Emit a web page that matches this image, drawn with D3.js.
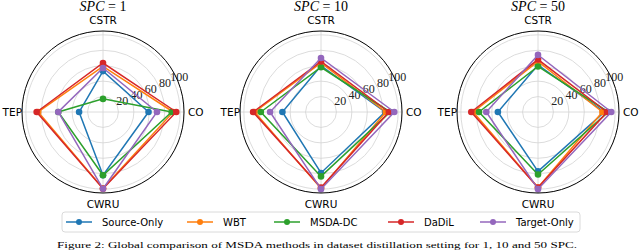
<!DOCTYPE html>
<html>
<head>
<meta charset="utf-8">
<script src="https://cdn.jsdelivr.net/npm/d3@7"></script>
<style>
  body { margin: 0; background: #fff; }
  svg { display: block; }
</style>
</head>
<body>
<svg width="640" height="251"></svg>
<script>
// axes, counter-clockwise from the right like matplotlib
var categories = ["CO", "CSTR", "TEP", "CWRU"];
var methods = ["Source-Only", "WBT", "MSDA-DC", "DaDiL", "Target-Only"];
var colors = ["#1f77b4", "#ff7f0e", "#2ca02c", "#d62728", "#9467bd"];
var rTicks = [20, 40, 60, 80, 100];
var panelTitles = ["1", "10", "50"];

// one row per method, values in categories order
var spc1 = [
  [59, 53, 31, 82],
  [91, 59, 84, 99],
  [89, 17, 58, 82],
  [95, 63.5, 86, 99.5],
  [70, 57, 58, 99.5]
];
var spc10 = [
  [83, 60, 50, 79],
  [84, 63.5, 86, 99],
  [89.5, 58, 78, 83.5],
  [88, 65.5, 88, 98],
  [95, 70, 66, 100]
];
var spc50 = [
  [86, 61, 52, 77],
  [83.5, 65.5, 84, 98],
  [91, 59, 76.5, 81],
  [89.5, 68, 86.5, 98],
  [95, 74, 67, 100]
];
var panels = [spc1, spc10, spc50];

var svg = d3.select("svg");
var R = 81, cy = 112;
var centers = [103, 321, 538];

var r = d3.scaleLinear().domain([0, 105]).range([0, R]);
// matplotlib angle (ccw from east) -> d3 radial angle (cw from north)
var theta = d3.scaleOrdinal().domain(categories).range([0, 90, 180, 270]);
function ang(c) { return (90 - theta(c)) * Math.PI / 180; }

var line = d3.lineRadial()
    .angle(function(d) { return ang(d.cat); })
    .radius(function(d) { return r(d.v); })
    .curve(d3.curveLinearClosed);

panels.forEach(function(data, pi) {
  var g = svg.append("g")
      .attr("transform", "translate(" + centers[pi] + "," + cy + ")");

  // grid circles
  g.selectAll(".grid").data(rTicks).enter().append("circle")
      .attr("r", function(d) { return r(d); })
      .attr("fill", "none")
      .attr("stroke", "#d3d3d3")
      .attr("stroke-width", 0.8);

  // spokes
  g.selectAll(".spoke").data(categories).enter().append("line")
      .attr("x1", 0).attr("y1", 0)
      .attr("x2", function(d) { return R * Math.sin(ang(d)); })
      .attr("y2", function(d) { return -R * Math.cos(ang(d)); })
      .attr("stroke", "#d3d3d3")
      .attr("stroke-width", 0.8);

  // radial tick labels at 22.5 deg
  var la = (90 - 22.5) * Math.PI / 180;
  g.selectAll(".rl").data(rTicks).enter().append("text")
      .attr("x", function(d) { return r(d) * Math.sin(la) + 5; })
      .attr("y", function(d) { return -r(d) * Math.cos(la) - 5; })
      .attr("text-anchor", "middle")
      .attr("dominant-baseline", "central")
      .attr("font-family", "Liberation Serif, serif")
      .attr("font-size", 12)
      .attr("fill", "#222")
      .text(function(d) { return d; });

  // series
  data.forEach(function(vals, mi) {
    var pts = categories.map(function(c, i) { return {cat: c, v: vals[i]}; });
    g.append("path")
        .attr("d", line(pts))
        .attr("fill", "none")
        .attr("stroke", colors[mi])
        .attr("stroke-width", 1.5);
    g.selectAll(".m" + mi).data(pts).enter().append("circle")
        .attr("cx", function(d) { return r(d.v) * Math.sin(ang(d.cat)); })
        .attr("cy", function(d) { return -r(d.v) * Math.cos(ang(d.cat)); })
        .attr("r", 3.3)
        .attr("fill", colors[mi]);
  });

  // outer frame
  g.append("circle")
      .attr("r", R)
      .attr("fill", "none")
      .attr("stroke", "#000")
      .attr("stroke-width", 1);

  // category labels
  var lab = g.append("g")
      .attr("font-family", "DejaVu Sans, sans-serif")
      .attr("font-size", 10.5)
      .attr("fill", "#000");
  lab.append("text").attr("x", R + 4).attr("y", 0).attr("dominant-baseline", "central").text(categories[0]);
  lab.append("text").attr("x", 0).attr("y", -R - 7).attr("text-anchor", "middle").text(categories[1]);
  lab.append("text").attr("x", -R).attr("y", 0).attr("text-anchor", "end").attr("dominant-baseline", "central").text(categories[2]);
  lab.append("text").attr("x", 0).attr("y", R + 15).attr("text-anchor", "middle").text(categories[3]);

  // title
  var t = svg.append("text")
      .attr("x", centers[pi])
      .attr("y", 11)
      .attr("text-anchor", "middle")
      .attr("font-family", "Liberation Serif, serif")
      .attr("font-size", 14);
  t.append("tspan").attr("font-style", "italic").text("SPC");
  t.append("tspan").text(" = " + panelTitles[pi]);
});

// legend
var legX = [66, 187, 274, 388, 480];
var leg = svg.append("g");
leg.append("rect")
    .attr("x", 62).attr("y", 212)
    .attr("width", 518).attr("height", 20)
    .attr("rx", 3)
    .attr("fill", "#fff")
    .attr("stroke", "#d0d0d0")
    .attr("stroke-width", 0.8);
methods.forEach(function(m, i) {
  var x = legX[i];
  leg.append("line")
      .attr("x1", x).attr("x2", x + 26)
      .attr("y1", 222).attr("y2", 222)
      .attr("stroke", colors[i]).attr("stroke-width", 1.5);
  leg.append("circle")
      .attr("cx", x + 13).attr("cy", 222).attr("r", 3)
      .attr("fill", colors[i]);
  leg.append("text")
      .attr("x", x + 36).attr("y", 222)
      .attr("dominant-baseline", "central")
      .attr("font-family", "DejaVu Sans, sans-serif")
      .attr("font-size", 10)
      .text(m);
});

// caption, squeezed into the bottom strip
svg.append("text")
    .attr("x", 57).attr("y", 248)
    .attr("font-family", "Liberation Serif, serif")
    .attr("font-size", 9)
    .attr("textLength", 520)
    .attr("lengthAdjust", "spacingAndGlyphs")
    .text("Figure 2: Global comparison of MSDA methods in dataset distillation setting for 1, 10 and 50 SPC.");
</script>
</body>
</html>
